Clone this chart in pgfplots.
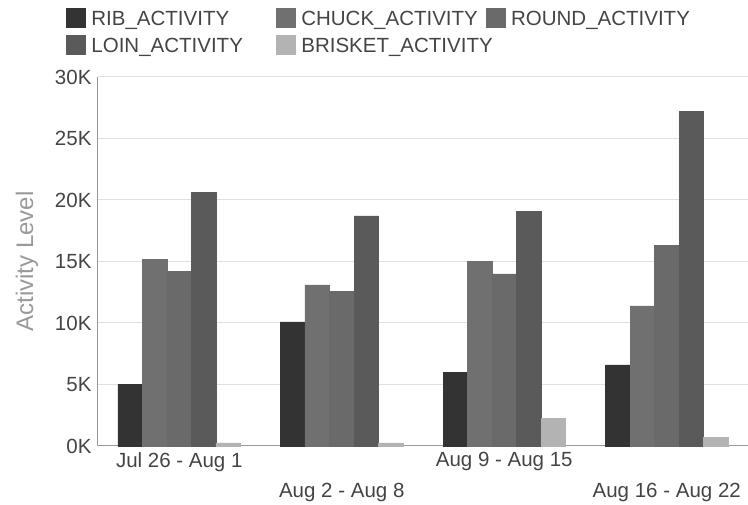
\documentclass[border=0pt]{standalone}
\usepackage{fontspec}
\setmainfont{Liberation Sans}
\usepackage{pgfplots}
\pgfplotsset{compat=1.18}
\definecolor{cRib}{HTML}{333333}
\definecolor{cChuck}{HTML}{707070}
\definecolor{cRound}{HTML}{6A6A6A}
\definecolor{cLoin}{HTML}{5A5A5A}
\definecolor{cBrisket}{HTML}{B3B3B3}
\definecolor{txt}{HTML}{444444}
\definecolor{lbl}{HTML}{999999}
\definecolor{gridc}{HTML}{E0E0E0}
\definecolor{axc}{HTML}{999999}
\begin{document}
\begin{tikzpicture}
\begin{axis}[
  scale only axis,
  width=650pt, height=369pt,
  ybar=0pt, bar width=24.5pt,
  xmin=-0.5, xmax=3.5,
  ymin=0, ymax=30000,
  xtick={0,2},
  xticklabels={Jul 26 - Aug 1, Aug 9 - Aug 15},
  extra x ticks={1,3},
  extra x tick labels={Aug 2 - Aug 8, Aug 16 - Aug 22},
  extra x tick style={grid=none, xticklabel style={yshift=-31pt}},
  ytick={0,5000,10000,15000,20000,25000,30000},
  yticklabels={0K,5K,10K,15K,20K,25K,30K},
  scaled y ticks=false,
  /pgf/number format/assume math mode=true,
  tick style={draw=none},
  major tick length=0pt,
  ymajorgrids, grid style={gridc, line width=1pt},
  axis x line*=bottom, axis y line*=left,
  axis line style={axc, line width=1pt},
  tick label style={font=\fontsize{20.5}{24}\selectfont, text=txt},
  yticklabel style={xshift=-3pt},
  xticklabel style={yshift=-3pt},
  ylabel={Activity Level},
  ylabel style={font=\fontsize{24}{28}\selectfont, text=lbl, yshift=10pt},
  legend columns=3,
  legend cell align=left,
  legend image code/.code={\fill[#1] (0pt,-7pt) rectangle (19pt,12pt);},
  legend style={
    at={(axis description cs:-0.0492,1.187)}, anchor=north west,
    draw=none, fill=none, inner sep=0pt, outer sep=0pt,
    font=\fontsize{20.5}{24}\selectfont, text=txt,
    row sep=4pt,
    nodes={inner sep=1pt, text height=15pt, text depth=4pt},
    /tikz/column 1/.style={column sep=5pt},
    /tikz/column 2/.style={column sep=32pt},
    /tikz/column 3/.style={column sep=5pt},
    /tikz/column 4/.style={column sep=-8pt},
    /tikz/column 5/.style={column sep=5pt},
  },
  clip=false,
]
\addplot[fill=cRib, draw=cRib, line width=0.4pt] coordinates {(0,5000) (1,10100) (2,6000) (3,6600)};
\addplot[fill=cChuck, draw=cChuck, line width=0.4pt] coordinates {(0,15200) (1,13100) (2,15000) (3,11400)};
\addplot[fill=cRound, draw=cRound, line width=0.4pt] coordinates {(0,14200) (1,12600) (2,14000) (3,16300)};
\addplot[fill=cLoin, draw=cLoin, line width=0.4pt] coordinates {(0,20600) (1,18700) (2,19100) (3,27200)};
\addplot[fill=cBrisket, draw=cBrisket, line width=0.4pt] coordinates {(0,250) (1,250) (2,2250) (3,700)};
\legend{RIB\_ACTIVITY, CHUCK\_ACTIVITY, ROUND\_ACTIVITY, LOIN\_ACTIVITY, BRISKET\_ACTIVITY}
\end{axis}
\pgfresetboundingbox
\path[use as bounding box] (current axis.south west) ++(-98pt,-59pt) rectangle ++(748pt,505pt);
\end{tikzpicture}
\end{document}
